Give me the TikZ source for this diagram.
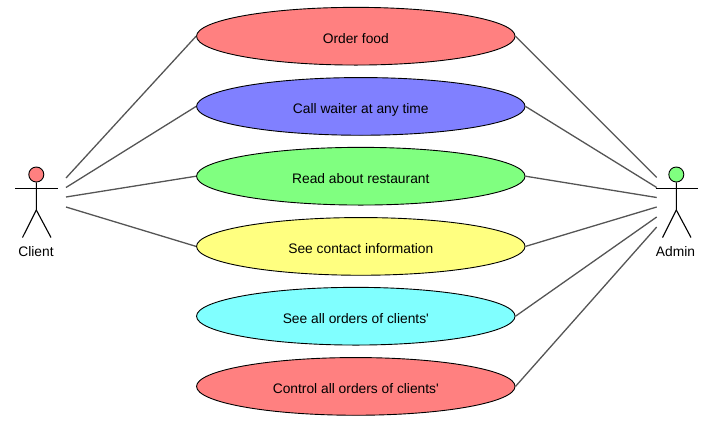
\documentclass[tikz,border=0pt]{standalone}
\usepackage{fontspec}
\setmainfont{Liberation Sans}
\usetikzlibrary{shapes.geometric}
\definecolor{redcase}{RGB}{255,128,128}
\definecolor{bluecase}{RGB}{128,128,255}
\definecolor{greencase}{RGB}{128,255,128}
\definecolor{yellowcase}{RGB}{255,255,128}
\definecolor{cyancase}{RGB}{128,255,255}
\definecolor{linkgray}{RGB}{85,85,85}
\tikzset{
	usecase/.style={draw=black,line width=0.9pt,ellipse,inner sep=0pt,minimum height=57.7pt,text height=14.2pt,text depth=0pt,font=\fontsize{13.8}{16}\selectfont},
	link/.style={draw=linkgray,line width=1.3pt},
	limb/.style={draw=black,line width=1.1pt},
	head/.style={circle,draw=black,line width=0.9pt,inner sep=0pt,minimum size=15pt},
	actorname/.style={inner sep=0pt,font=\fontsize{13.8}{16}\selectfont}
}
\begin{document}
\begin{tikzpicture}[x=1pt,y=-1pt]
	\useasboundingbox (0,0) rectangle (709,437);
	\node[usecase,fill=redcase,minimum width=318.5pt] (order) at (355.8,36.2) {Order food};
	\node[usecase,fill=bluecase,minimum width=328.5pt] (call) at (360.8,106.4) {Call waiter at any time};
	\node[usecase,fill=greencase,minimum width=328.5pt] (read) at (360.8,176.2) {Read about restaurant};
	\node[usecase,fill=yellowcase,minimum width=328.5pt] (contact) at (360.8,246.4) {See contact information};
	\node[usecase,fill=cyancase,minimum width=318.5pt] (see) at (355.8,316.2) {See all orders of clients\textquotesingle};
	\node[usecase,fill=redcase,minimum width=318.5pt] (control) at (355.8,386.4) {Control all orders of clients\textquotesingle};

	\node[head,fill=redcase] (clienthead) at (36.3,174.5) {};
	\draw[limb] (15,188.3) -- (58,188.3);
	\draw[limb] (clienthead.south) -- (36.3,210) -- (22.5,237.5);
	\draw[limb] (36.3,210) -- (51,237.5);
	\node[actorname] (client) at (36,251.5) {Client};

	\node[head,fill=greencase] (adminhead) at (676.3,174.5) {};
	\draw[limb] (655.5,188.3) -- (698,188.3);
	\draw[limb] (adminhead.south) -- (676.3,210) -- (662.5,237.5);
	\draw[limb] (676.3,210) -- (691,237.5);
	\node[actorname] (admin) at (675.5,251.5) {Admin};

	\coordinate (c1) at (66,178);
	\coordinate (c2) at (66,187.5);
	\coordinate (c3) at (66,197);
	\coordinate (c4) at (66,207);
	\coordinate (a1) at (656.7,177.5);
	\coordinate (a2) at (656.7,187.5);
	\coordinate (a3) at (656.7,197.5);
	\coordinate (a4) at (656.7,207);
	\coordinate (a5) at (656.7,217);
	\coordinate (a6) at (656.7,227);

	\draw[link] (c1) -- (order.west);
	\draw[link] (c2) -- (call.west);
	\draw[link] (c3) -- (read.west);
	\draw[link] (c4) -- (contact.west);

	\draw[link] (a1) -- (order.east);
	\draw[link] (a2) -- (call.east);
	\draw[link] (a3) -- (read.east);
	\draw[link] (a4) -- (contact.east);
	\draw[link] (a5) -- (see.east);
	\draw[link] (a6) -- (control.east);
\end{tikzpicture}
\end{document}
